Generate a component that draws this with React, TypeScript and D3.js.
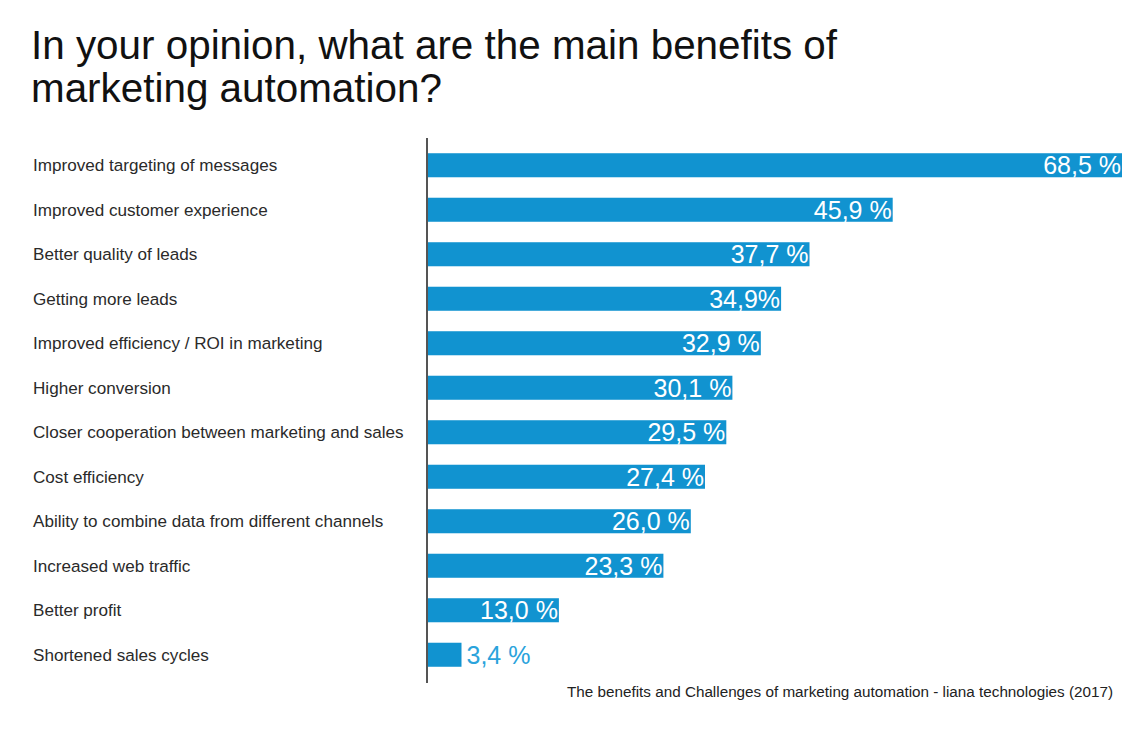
import React from "react";
import * as d3 from "d3";

const categories = [
  "Improved targeting of messages",
  "Improved customer experience",
  "Better quality of leads",
  "Getting more leads",
  "Improved efficiency / ROI in marketing",
  "Higher conversion",
  "Closer cooperation between marketing and sales",
  "Cost efficiency",
  "Ability to combine data from different channels",
  "Increased web traffic",
  "Better profit",
  "Shortened sales cycles",
];
const values = [68.5, 45.9, 37.7, 34.9, 32.9, 30.1, 29.5, 27.4, 26.0, 23.3, 13.0, 3.4];
const valueLabels = ["68,5 %", "45,9 %", "37,7 %", "34,9%", "32,9 %", "30,1 %", "29,5 %", "27,4 %", "26,0 %", "23,3 %", "13,0 %", "3,4 %"];
const titleLines = ["In your opinion, what are the main benefits of", "marketing automation?"];
const source = "The benefits and Challenges of marketing automation - liana technologies (2017)";

const W = 1137;
const H = 745;
const x0 = 427;
const barColor = "#1193d0";

export default function App() {
  const x = d3.scaleLinear().domain([0, 68.5]).range([x0, 1122]);
  const y = d3.scaleBand().domain(categories).range([143, 677]).paddingInner(0.46).paddingOuter(0.23);
  const font = "'Liberation Sans', Arial, sans-serif";
  return (
    <svg width={W} height={H} style={{ position: "absolute", left: 0, top: 0, background: "#fff" }} fontFamily={font}>
      <rect width={W} height={H} fill="#fff" />
      {titleLines.map((t, i) => (
        <text key={i} x={31} y={59 + i * 43} fontSize={40.4} fill="#111">{t}</text>
      ))}
      {categories.map((c, i) => {
        const yy = y(c)!;
        const bw = y.bandwidth();
        const v = values[i];
        const inside = v > 10;
        return (
          <g key={c}>
            <text x={33} y={yy + bw / 2 + 6} fontSize={17.1} fill="#2a2a2a">{c}</text>
            <rect x={x0} y={yy} width={x(v) - x0} height={bw} fill={barColor} />
            <text
              x={inside ? x(v) - 1 : x(v) + 5}
              y={yy + bw / 2 + 9}
              fontSize={25}
              textAnchor={inside ? "end" : "start"}
              fill={inside ? "#fff" : "#2aa3dc"}
            >{valueLabels[i]}</text>
          </g>
        );
      })}
      <line x1={x0} x2={x0} y1={138} y2={683} stroke="#555" strokeWidth={2} />
      <text x={1113} y={697} fontSize={15.25} textAnchor="end" fill="#222">{source}</text>
    </svg>
  );
}
